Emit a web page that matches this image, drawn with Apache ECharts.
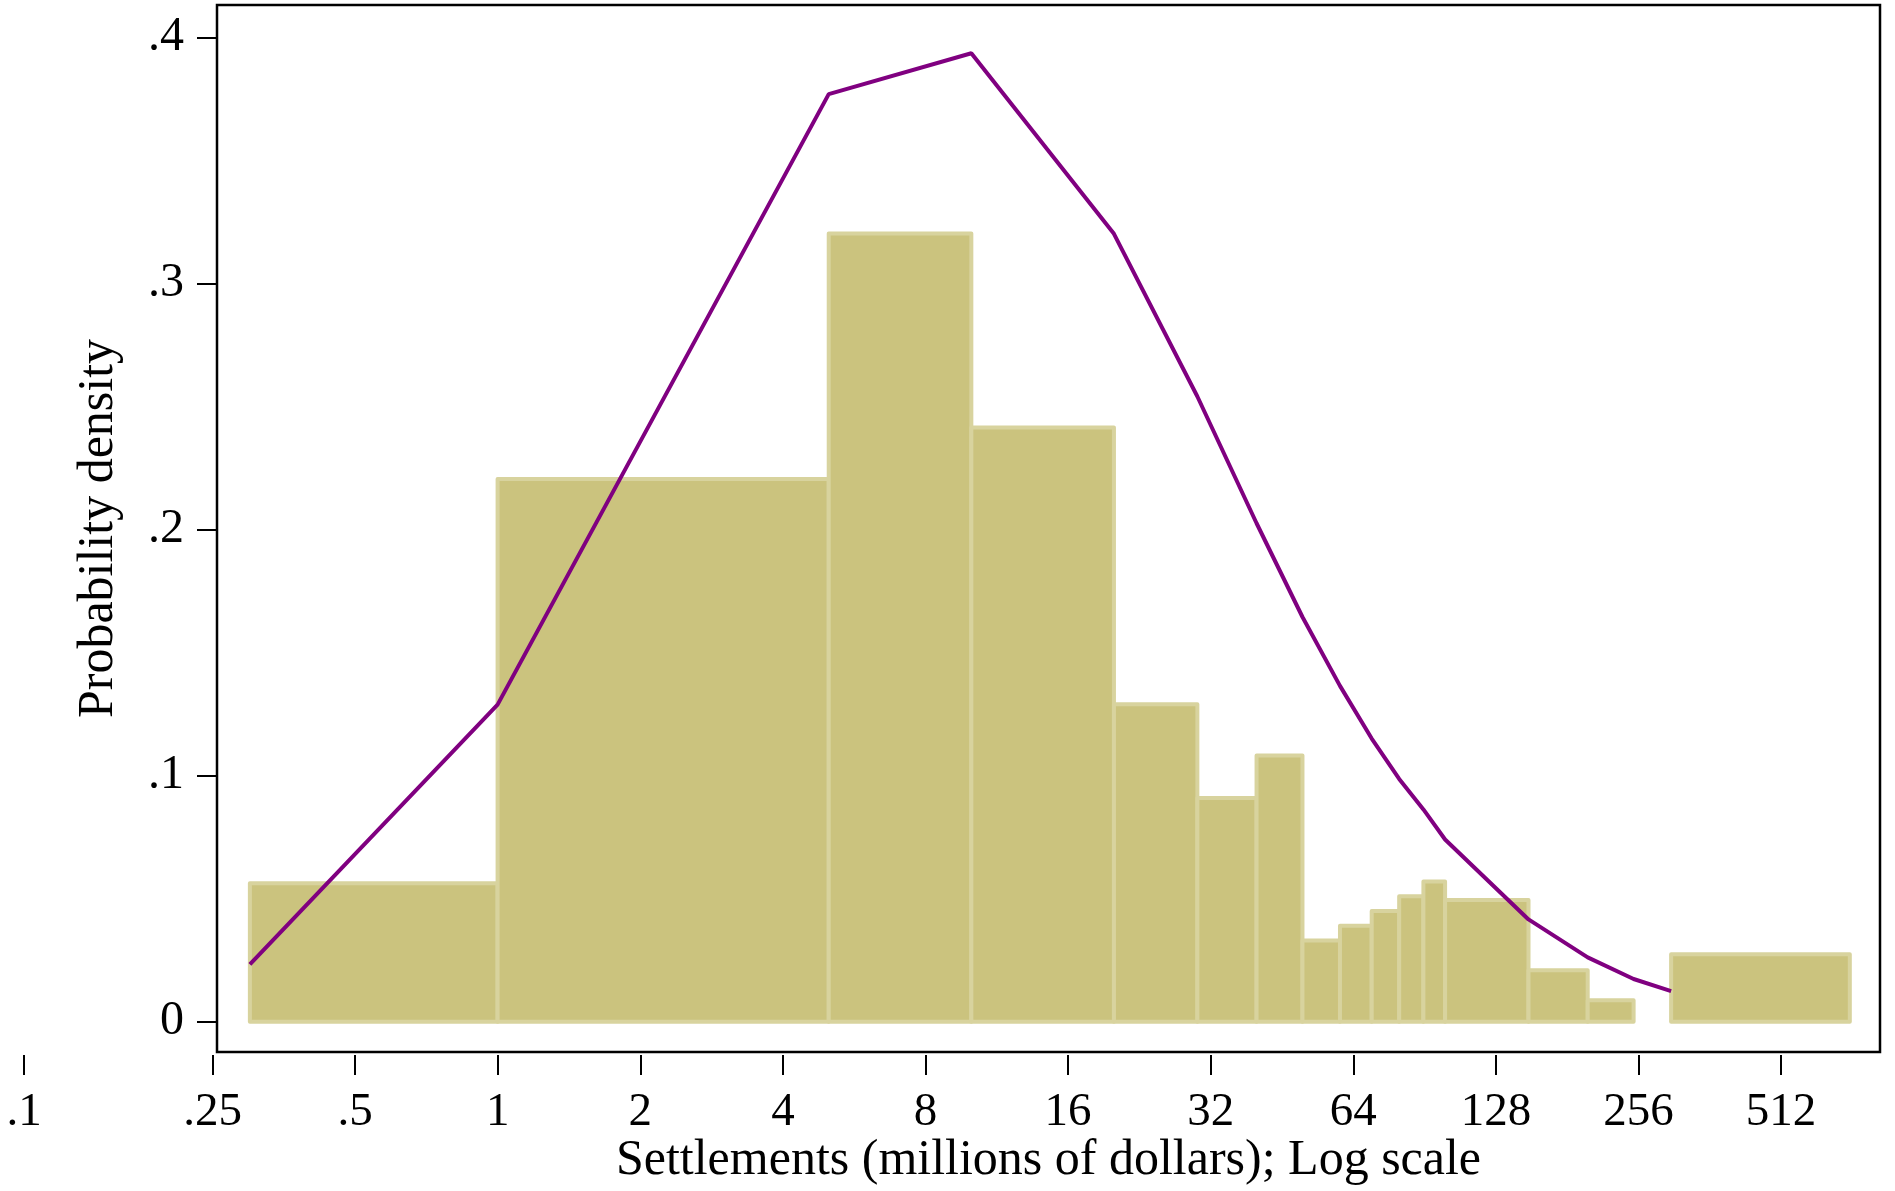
<!DOCTYPE html>
<html><head><meta charset="utf-8">
<script src="https://cdn.jsdelivr.net/npm/echarts@6/dist/echarts.min.js"></script>
<style>html,body{margin:0;padding:0;background:#fff}#c{width:1895px;height:1191px}</style>
</head><body><div id="c"></div>
<script>
// Histogram bins (millions of dollars) and densities
const binLow  = [0.3, 1, 5, 10, 20, 30, 40, 50, 60, 70, 80, 90, 100, 150, 200, 300];
const binHigh = [1, 5, 10, 20, 30, 40, 50, 60, 70, 80, 90, 100, 150, 200, 250, 715];
const binDensity = [0.0563, 0.2206, 0.3203, 0.2415, 0.1290, 0.0909, 0.1082, 0.033, 0.039, 0.045, 0.051, 0.057, 0.0495, 0.021, 0.0088, 0.0275];
// Fitted density curve
const curveX = [0.3, 1, 5, 10, 20, 30, 40, 50, 60, 70, 80, 90, 100, 150, 200, 250, 300];
const curveDensity = [0.0233, 0.1289, 0.3770, 0.3936, 0.3202, 0.2541, 0.2026, 0.1645, 0.1365, 0.1151, 0.0987, 0.0863, 0.0741, 0.0416, 0.0262, 0.0174, 0.0125];
// Ticks
const xTickValues = [0.1, 0.25, 0.5, 1, 2, 4, 8, 16, 32, 64, 128, 256, 512];
const xTickLabels = ['.1', '.25', '.5', '1', '2', '4', '8', '16', '32', '64', '128', '256', '512'];
const yTickValues = [0, 0.1, 0.2, 0.3, 0.4];
const yTickLabels = ['0', '.1', '.2', '.3', '.4'];

const L2 = Math.log2;
const xMin = L2(0.2557), xMax = L2(828), xTickMin = L2(0.1);
const yMin = -0.01227, yMax = 0.4132;
const FONT = 'Liberation Serif';

const barData = binLow.map((lo, i) => [L2(lo), L2(binHigh[i]), binDensity[i]]);
const lineData = curveX.map((x, i) => [L2(x), curveDensity[i]]);

function xFmt(v) {
  for (let i = 0; i < xTickValues.length; i++) if (Math.abs(L2(xTickValues[i]) - v) < 1e-6) return xTickLabels[i];
  return '';
}
function yFmt(v) {
  for (let i = 0; i < yTickValues.length; i++) if (Math.abs(yTickValues[i] - v) < 1e-9) return yTickLabels[i];
  return '';
}

const chart = echarts.init(document.getElementById('c'), null, {renderer: 'canvas'});
chart.setOption({
  backgroundColor: '#fff',
  animation: false,
  grid: [
    {left: 217, top: 5, width: 1663, height: 1048, show: true, borderColor: '#000', borderWidth: 2.5, backgroundColor: 'transparent'},
    {left: 24, top: 1040, width: 1856, height: 15, show: false}
  ],
  xAxis: [
    {gridIndex: 0, type: 'value', min: xMin, max: xMax, position: 'bottom',
     axisLine: {show: false, onZero: false}, axisTick: {show: false}, axisLabel: {show: false}, splitLine: {show: false},
     name: 'Settlements (millions of dollars); Log scale', nameLocation: 'middle', nameGap: 84,
     nameTextStyle: {fontFamily: FONT, fontSize: 50, color: '#000'}},
    {gridIndex: 1, type: 'value', min: xTickMin, max: xMax, position: 'bottom',
     axisLine: {show: false, onZero: false},
     axisTick: {show: true, length: 20, inside: false, customValues: xTickValues.map(L2), lineStyle: {color: '#000', width: 2}},
     axisLabel: {show: true, customValues: xTickValues.map(L2), formatter: xFmt, margin: 34,
                 fontFamily: FONT, fontSize: 47, color: '#000', showMinLabel: true, showMaxLabel: true},
     splitLine: {show: false}}
  ],
  yAxis: [
    {gridIndex: 0, type: 'value', min: yMin, max: yMax, position: 'left',
     axisLine: {show: false, onZero: false},
     axisTick: {show: true, length: 20, inside: false, customValues: yTickValues, lineStyle: {color: '#000', width: 2}},
     axisLabel: {show: true, customValues: yTickValues, formatter: yFmt, margin: 33,
                 fontFamily: FONT, fontSize: 48, color: '#000'},
     splitLine: {show: false},
     name: 'Probability density', nameLocation: 'middle', nameGap: 93, nameRotate: 90,
     nameTextStyle: {fontFamily: FONT, fontSize: 50, color: '#000'}},
    {gridIndex: 1, type: 'value', show: false}
  ],
  series: [
    {type: 'custom', xAxisIndex: 0, yAxisIndex: 0, data: barData, encode: {x: [0, 1], y: 2}, z: 2,
     renderItem: function (params, api) {
       const p0 = api.coord([api.value(0), api.value(2)]);
       const p1 = api.coord([api.value(1), 0]);
       return {type: 'rect', shape: {x: p0[0], y: p0[1], width: p1[0] - p0[0], height: p1[1] - p0[1]},
               style: {fill: '#cbc37e', stroke: '#d8d39e', lineWidth: 4, lineJoin: 'round'}};
     }},
    {type: 'line', xAxisIndex: 0, yAxisIndex: 0, data: lineData, showSymbol: false, z: 3,
     lineStyle: {color: '#800080', width: 4}, silent: true}
  ]
});
</script></body></html>
